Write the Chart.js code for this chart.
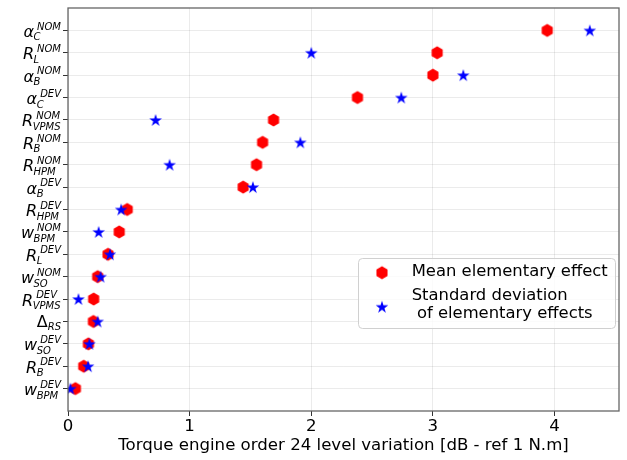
<!DOCTYPE html>
<html>
<head>
<meta charset="utf-8">
<script src="https://cdn.jsdelivr.net/npm/chart.js@4/dist/chart.umd.min.js"></script>
<style>
html,body{margin:0;padding:0;background:#fff;}
canvas{display:block;}
</style>
</head>
<body>
<canvas id="c" width="627" height="460"></canvas>
<script>
// ---- data ----
const labelBase = ['α','R','α','α','R','R','R','α','R','w','R','w','R','Δ','w','R','w'];
const labelSub  = ['C','L','B','C','VPMS','B','HPM','B','HPM','BPM','L','SO','VPMS','RS','SO','B','BPM'];
const labelSup  = ['NOM','NOM','NOM','DEV','NOM','NOM','NOM','DEV','DEV','NOM','DEV','NOM','DEV','','DEV','DEV','DEV'];
const meanEffect = [3.94, 3.035, 3.00, 2.38, 1.69, 1.60, 1.55, 1.44, 0.487, 0.421, 0.329, 0.244, 0.211, 0.209, 0.168, 0.129, 0.061];
const stdEffect  = [4.29, 2.00, 3.25, 2.74, 0.72, 1.91, 0.835, 1.52, 0.437, 0.252, 0.345, 0.268, 0.086, 0.244, 0.176, 0.165, 0.02];
const xTicks = [0, 1, 2, 3, 4];
const seriesNames = ['Mean elementary effect', 'Standard deviation\n of elementary effects'];
const xTitle = 'Torque engine order 24 level variation [dB - ref 1 N.m]';

const FONT = '"DejaVu Sans", "Liberation Sans", sans-serif';

// ---- marker images ----
function makeHex(color){
  const c = document.createElement('canvas'); c.width = 16; c.height = 16;
  const g = c.getContext('2d'); const R = 6.4;
  g.beginPath();
  for(let k=0;k<6;k++){ const a = (-90 + 60*k)*Math.PI/180; const x = 8 + R*Math.cos(a), y = 8 + R*Math.sin(a); k?g.lineTo(x,y):g.moveTo(x,y); }
  g.closePath(); g.fillStyle = color; g.fill();
  return c;
}
function makeStar(color){
  const c = document.createElement('canvas'); c.width = 16; c.height = 16;
  const g = c.getContext('2d'); const R = 6.6, r = R*0.382;
  g.beginPath();
  for(let k=0;k<10;k++){ const a = (-90 + 36*k)*Math.PI/180; const rr = k%2?r:R; const x = 8 + rr*Math.cos(a), y = 8.6 + rr*Math.sin(a); k?g.lineTo(x,y):g.moveTo(x,y); }
  g.closePath(); g.fillStyle = color; g.fill();
  return c;
}
const hexImg = makeHex('#ff0000');
const starImg = makeStar('#0000ff');

const meanPts = meanEffect.map((v,i)=>({x:v, y:i}));
const stdPts = stdEffect.map((v,i)=>({x:v, y:i}));

const labelPlugin = {
  id: 'mathLabels',
  afterDraw(chart){
    const ctx = chart.ctx; const ys = chart.scales.y; const xs = chart.scales.x; const ca = chart.chartArea;
    ctx.save();
    // frame
    ctx.strokeStyle = '#666666'; ctx.lineWidth = 1.3;
    ctx.strokeRect(ca.left, ca.top, ca.right - ca.left, ca.bottom - ca.top);
    // x tick labels (positions from the x scale)
    ctx.fillStyle = '#000'; ctx.font = '16.6px ' + FONT; ctx.textAlign = 'center'; ctx.textBaseline = 'alphabetic';
    xs.ticks.forEach(t => { ctx.fillText(String(t.value), xs.getPixelForValue(t.value), ca.bottom + 20); });
    // y labels
    ctx.textAlign = 'left';
    const rightX = 61;
    for(let i=0;i<labelBase.length;i++){
      const yc = ys.getPixelForValue(i);
      const b = labelBase[i], sb = labelSub[i], sp = labelSup[i];
      const baseFont = (b==='Δ' ? '' : 'italic ') + '16px ' + FONT;
      const scrFont = 'italic 10px ' + FONT;
      ctx.font = baseFont; const wb = ctx.measureText(b).width;
      ctx.font = scrFont; const wsb = ctx.measureText(sb).width; const wsp = sp ? ctx.measureText(sp).width : 0;
      const supShift = 3;
      const total = wb + Math.max(wsb, wsp + supShift);
      const x0 = rightX - total;
      let baseY, subY, supY;
      if(sp){ baseY = yc + 6.5; supY = yc - 0.8; subY = yc + 10; }
      else { baseY = yc + 5.5; subY = yc + 8.5; }
      ctx.font = baseFont; ctx.fillText(b, x0, baseY);
      ctx.font = scrFont;
      ctx.fillText(sb, x0 + wb - (b==='Δ'?0:0.5), subY);
      if(sp) ctx.fillText(sp, x0 + wb + supShift, supY);
    }
    // legend
    const lx = 358.5, ly = 258.5, lw = 257, lh = 70, rad = 4;
    ctx.beginPath();
    ctx.moveTo(lx+rad, ly); ctx.lineTo(lx+lw-rad, ly); ctx.quadraticCurveTo(lx+lw, ly, lx+lw, ly+rad);
    ctx.lineTo(lx+lw, ly+lh-rad); ctx.quadraticCurveTo(lx+lw, ly+lh, lx+lw-rad, ly+lh);
    ctx.lineTo(lx+rad, ly+lh); ctx.quadraticCurveTo(lx, ly+lh, lx, ly+lh-rad);
    ctx.lineTo(lx, ly+rad); ctx.quadraticCurveTo(lx, ly, lx+rad, ly); ctx.closePath();
    ctx.fillStyle = 'rgba(255,255,255,0.8)'; ctx.fill();
    ctx.strokeStyle = '#d0d0d0'; ctx.lineWidth = 1; ctx.stroke();
    ctx.drawImage(hexImg, 382 - 8, 272.7 - 8);
    ctx.drawImage(starImg, 382 - 8, 307.3 - 8.6);
    ctx.fillStyle = '#000'; ctx.font = '16.4px ' + FONT; ctx.textBaseline = 'middle';
    ctx.fillText(seriesNames[0], 411.7, 272);
    const lines = seriesNames[1].split('\n');
    ctx.fillText(lines[0], 411.7, 295.5);
    ctx.fillText(lines[1], 411.7, 313.8);
    ctx.restore();
  }
};

new Chart(document.getElementById('c'), {
  type: 'scatter',
  data: {
    datasets: [
      { label: seriesNames[0], data: meanPts, pointStyle: hexImg, pointRadius: 7, pointHoverRadius: 7, order: 2 },
      { label: seriesNames[1], data: stdPts, pointStyle: starImg, pointRadius: 7, pointHoverRadius: 7, order: 1 }
    ]
  },
  options: {
    responsive: false,
    animation: false,
    layout: { padding: { top: 6, right: 3.5, left: 0, bottom: 0 } },
    plugins: { legend: { display: false }, tooltip: { enabled: false } },
    scales: {
      x: {
        type: 'linear', min: 0, max: 4.53,
        afterBuildTicks(scale){ scale.ticks = xTicks.map(v=>({value:v})); },
        ticks: { display: false },
        grid: { color: 'rgba(0,0,0,0.08)', tickColor: '#333', tickLength: 5, lineWidth: 1 },
        border: { display: false },
        title: { display: true, text: xTitle, color: '#000', font: { family: FONT, size: 16.6 }, padding: { top: 0, bottom: 4 } },
        afterFit(scale){ scale.height = 49; }
      },
      y: {
        type: 'linear', min: -1, max: 17, reverse: true,
        ticks: { stepSize: 1, display: false },
        grid: {
          color: (c)=> (c.tick && (c.tick.value < 0 || c.tick.value > 16)) ? 'rgba(0,0,0,0)' : 'rgba(0,0,0,0.08)',
          tickColor: (c)=> (c.tick && (c.tick.value < 0 || c.tick.value > 16)) ? 'rgba(0,0,0,0)' : '#333',
          tickLength: 5, lineWidth: 1
        },
        border: { display: false },
        afterFit(scale){ scale.width = 68; }
      }
    }
  },
  plugins: [labelPlugin]
});
</script>
</body>
</html>
